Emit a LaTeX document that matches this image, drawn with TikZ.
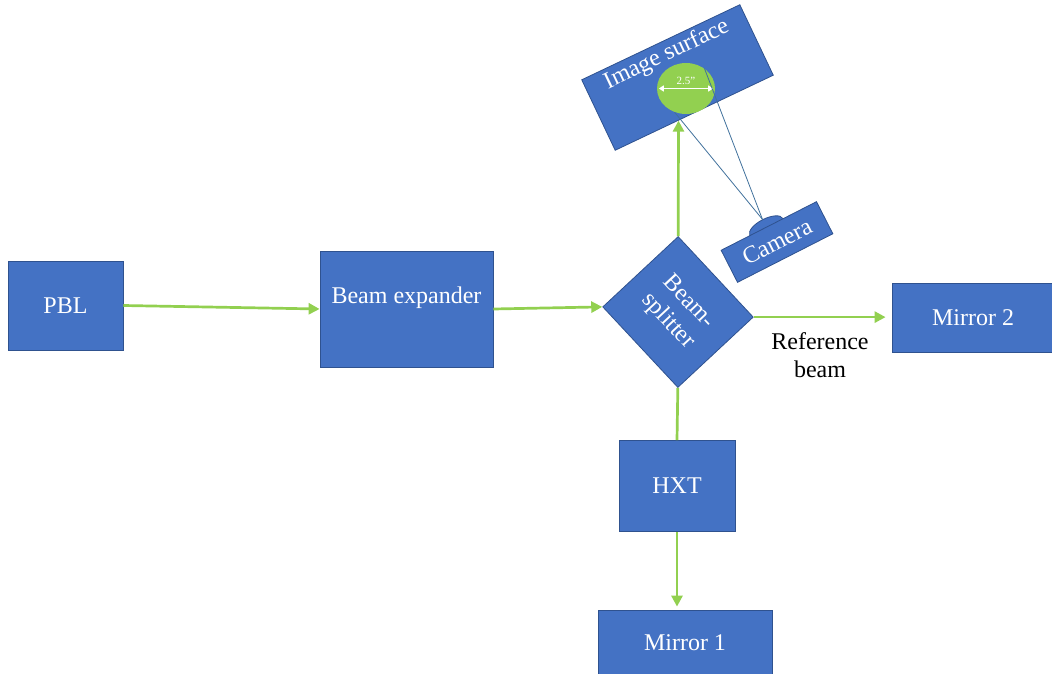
\documentclass[tikz,border=0pt]{standalone}
\usepackage{fontspec}
\setmainfont{Liberation Serif}
\usetikzlibrary{arrows.meta,shapes.geometric,calc,backgrounds}
\definecolor{ocean}{RGB}{68,114,196}
\definecolor{navy}{RGB}{47,82,143}
\definecolor{leaf}{RGB}{146,208,80}
\definecolor{steel}{RGB}{65,113,156}
\tikzset{
  box/.style={draw=navy,line width=0.8pt,fill=ocean,text=white,inner sep=0pt,
    align=center,font=\fontsize{24}{28}\selectfont},
  flow/.style={-{Triangle[length=11pt,width=11pt]},line width=2.7pt,draw=leaf},
  tag/.style={font=\fontsize{24}{28}\selectfont,align=center,inner sep=0pt},
  ray/.style={draw=steel,line width=0.8pt},
  gauge/.style={{Triangle[length=5pt,width=6pt]}-{Triangle[length=5pt,width=6pt]},
    white,line width=1.3pt,shorten <=2pt,shorten >=2pt},
}
\begin{document}
\begin{tikzpicture}[x=1pt,y=-1pt]
  \useasboundingbox (0,0) rectangle (1052,674);
  % main beam line
  \node[box,minimum width=115,minimum height=89] (pbl) at (65.5,305.5) {PBL};
  \node[box,minimum width=173,minimum height=116] (expander) at (406.5,309) {};
  \node[tag,text=white] (expanderlbl) at ($(expander.center)!0.2!(expander.north)$) {Beam expander};
  \node[box,rotate=-47,minimum width=110,minimum height=103] (split) at (678,312) {Beam-\\splitter};
  \node[box,minimum width=162,minimum height=69] (mirrortwo) at (973,317.7) {Mirror 2};
  \node[tag] (refbeam) at (820,355) {Reference\\beam};
  \node[box,minimum width=116,minimum height=91] (hxt) at (677,486) {HXT};
  \node[box,minimum width=174,minimum height=66] (mirrorone) at (685,643) {Mirror 1};
  % image surface and camera
  \node[box,rotate=25.4,minimum width=175,minimum height=78] (surface) at (677.5,77.5) {};
  \node[tag,text=white,rotate=25.4] (surfacelbl) at ($(surface.center)!0.64!(surface.north)$) {Image surface};
  \node[ellipse,fill=leaf,inner sep=0pt,minimum width=58,minimum height=51] (spot) at (686,88.5) {};
  \draw[gauge] (spot.west) -- (spot.east);
  \node[font=\fontsize{11}{13}\selectfont,text=white,inner sep=0pt] (size) at ([yshift=8]spot.center) {2.5”};
  \node[box,rotate=27,minimum width=107,minimum height=36] (camera) at (777,242) {Camera};
  \begin{scope}[on background layer]
    \node[box,ellipse,rotate=27,minimum width=37,minimum height=16] (lens)
      at ($(camera.north)!0.05!(camera.north west)$) {};
  \end{scope}
  \draw[ray] (lens.north) -- (spot.47);
  \draw[ray] (lens.north) -- (spot.244);
  % beams
  \coordinate (hit) at ($(surface.south west)!0.4!(surface.south east)$);
  \draw[flow] (pbl.east) -- (expander.west);
  \draw[flow] (expander.east) -- (split.south west);
  \draw[flow,shorten >=6pt] (split.north east) -- (split.north east -| mirrortwo.west);
  \draw[flow] (split.north west) -- (hit);
  \draw[flow,-] (split.south east) -- (hxt.north);
  \draw[flow,shorten >=3pt] (hxt.south) -- (hxt.south |- mirrorone.north);
\end{tikzpicture}
\end{document}
